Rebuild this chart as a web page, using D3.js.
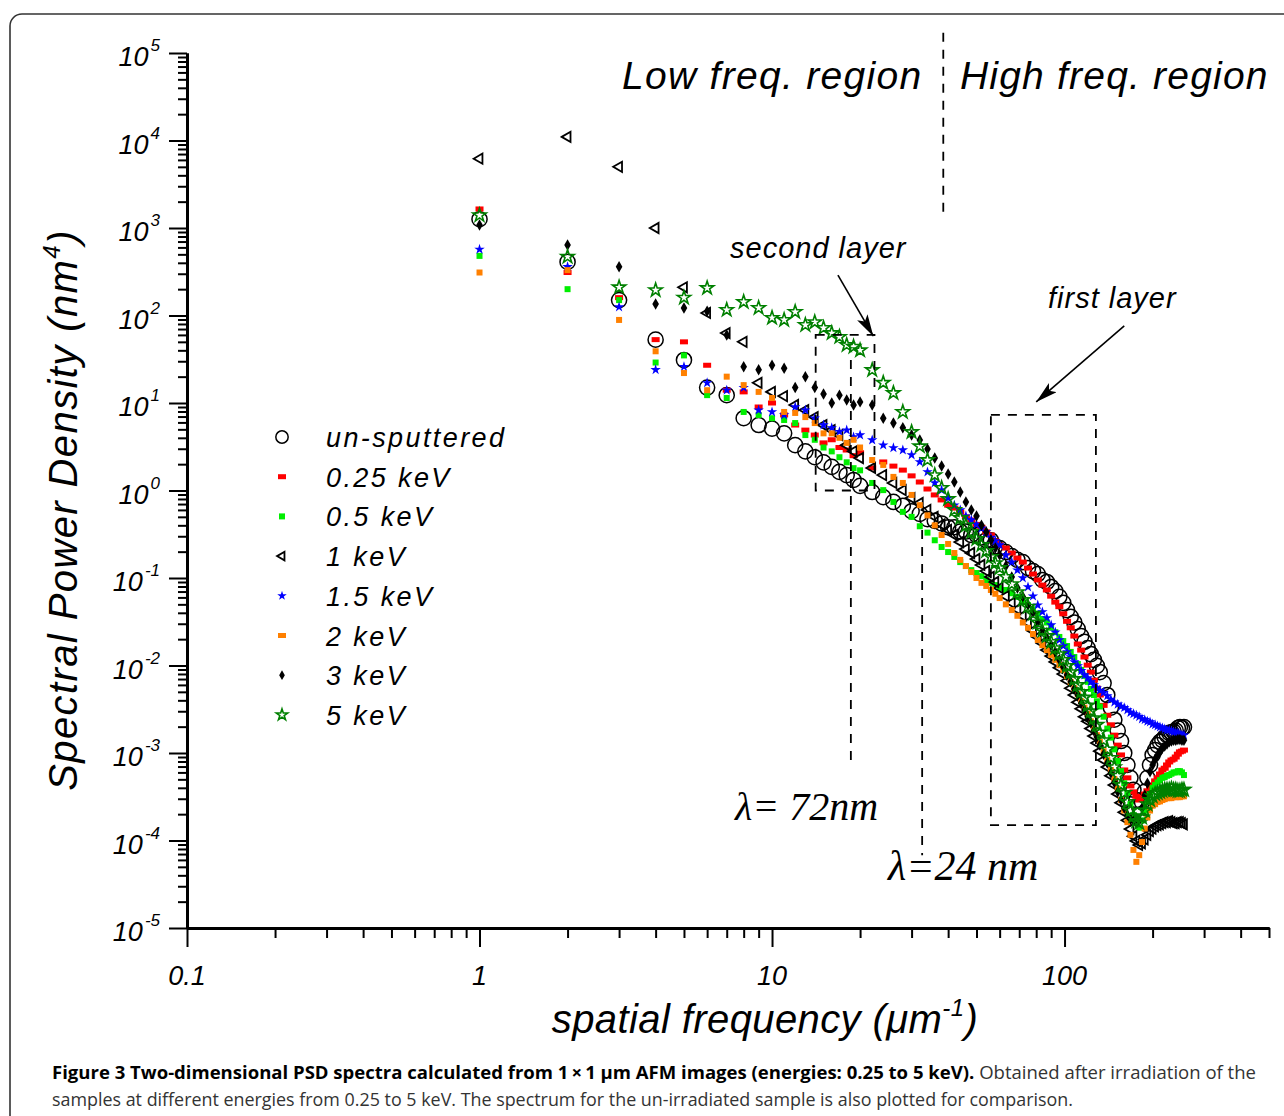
<!DOCTYPE html>
<html>
<head>
<meta charset="utf-8">
<script src="https://cdn.jsdelivr.net/npm/d3@7"></script>
<style>
body { margin: 0; background: #fff; }
svg text { font-family: "Liberation Sans", Arial, sans-serif; fill: #000; }
</style>
</head>
<body>
<svg id="chart" width="1284" height="1116"></svg>
<script>
// spatial frequency (um^-1) shared by every series
const freq = [1,2,3,4,5,6,7,8,9,10,11,12,13,14,15,16,17,18,19,20,
  22,24,26,28,30,32,34,36,38,40,42,44,46,48,50,52,54,56,58,60,
  63,66,69,72,75,78,81,84,87,90,93,96,99,102,105,108,111,114,117,120,123,126,129,
  132,136,140,144,148,152,156,160,164,168,172,176,180,184,188,192,196,200,204,208,212,216,220,224,228,232,236,240,244,248,252,256];

// PSD values (nm^4)
const unsputtered = [1.26e3,4.1e2,1.5e2,53,31,15,12.3,6.7,5.6,5.1,4.5,3.3,2.8,2.4,2.1,1.86,1.63,1.5,1.32,1.13,
  0.96,0.84,0.74,0.67,0.58,0.54,0.47,0.45,0.42,0.38,0.38,0.34,0.34,0.31,0.31,0.29,0.27,0.27,0.23,0.22,
  0.198,0.178,0.161,0.152,0.130,0.120,0.111,0.095,0.090,0.079,0.071,0.061,0.052,0.043,0.036,0.031,0.026,0.0217,0.0186,0.0158,0.0135,0.0116,0.0099,
  0.0084,0.0063,0.0046,0.0033,0.0024,0.0018,0.00137,1.0e-3,7.3e-4,5.2e-4,3.8e-4,2.9e-4,2.4e-4,2.75e-4,3.6e-4,5.2e-4,7.3e-4,9.5e-4,1.08e-3,1.23e-3,1.34e-3,1.4e-3,1.52e-3,1.6e-3,1.7e-3,1.72e-3,1.76e-3,1.8e-3,1.93e-3,1.98e-3,1.93e-3,1.98e-3];
const kev025 = [1.65e3,3.1e2,1.6e2,53,50,27,14,13.4,9.0,10,7.3,5.6,4.9,4.3,3.5,3.8,3.1,2.9,2.5,2.7,
  1.81,2.12,1.9,1.71,1.47,1.25,1.04,0.89,0.78,0.68,0.63,0.57,0.50,0.46,0.41,0.38,0.336,0.31,0.265,0.238,
  0.22,0.193,0.169,0.152,0.13,0.111,0.095,0.083,0.073,0.062,0.053,0.047,0.039,0.032,0.027,0.0217,0.0176,0.015,0.0125,0.0101,0.0084,0.0068,0.0055,
  0.0046,0.0035,0.0027,0.0021,0.0016,1.23e-3,9.5e-4,6.4e-4,5.2e-4,4.2e-4,3.6e-4,3.2e-4,2.9e-4,3.05e-4,3.4e-4,3.7e-4,4.0e-4,4.3e-4,4.8e-4,5.2e-4,5.75e-4,6.4e-4,6.7e-4,7.3e-4,7.9e-4,8.3e-4,8.5e-4,9.0e-4,9.7e-4,1.03e-3,1.05e-3,1.08e-3];
const kev05 = [4.8e2,2.0e2,1.5e2,29,35,12.3,11.4,7.9,7.3,6.7,6.4,5.9,4.3,3.8,3.1,2.8,2.4,2.1,1.8,1.7,
  1.22,1.01,0.74,0.57,0.50,0.39,0.33,0.27,0.226,0.198,0.174,0.152,0.137,0.123,0.114,0.105,0.095,0.088,0.083,0.077,
  0.073,0.067,0.061,0.055,0.049,0.044,0.039,0.034,0.031,0.027,0.024,0.0212,0.019,0.0167,0.0143,0.0125,0.0104,0.0089,0.0076,0.0065,0.0054,0.0046,0.0039,
  0.0034,0.0026,0.0019,0.0015,0.0011,8.1e-4,6.2e-4,4.5e-4,3.5e-4,2.6e-4,1.95e-4,1.6e-4,1.4e-4,1.7e-4,2.2e-4,2.8e-4,3.4e-4,4.0e-4,4.3e-4,4.6e-4,4.9e-4,5.2e-4,5.3e-4,5.5e-4,5.6e-4,5.8e-4,6.0e-4,6.0e-4,6.2e-4,6.2e-4,6.0e-4,5.6e-4];
const kev1 = [6.2e3,1.1e4,5.0e3,1.0e3,2.1e2,1.07e2,63,50,17,13.4,12,9.5,8.3,6.9,5.6,4.9,4.3,3.3,2.8,2.35,
  1.81,1.50,1.22,1.01,0.82,0.72,0.60,0.50,0.41,0.354,0.31,0.258,0.214,0.193,0.165,0.141,0.12,0.103,0.090,0.077,
  0.062,0.052,0.044,0.037,0.031,0.025,0.0212,0.018,0.015,0.0128,0.011,0.0094,0.008,0.0067,0.0055,0.0046,0.0038,0.0032,0.0026,0.0023,0.0019,0.00156,0.0013,
  1.05e-3,8.3e-4,6.9e-4,5.5e-4,4.3e-4,3.4e-4,2.7e-4,2.1e-4,1.7e-4,1.35e-4,1.12e-4,9.9e-5,8.9e-5,9.3e-5,1.03e-4,1.16e-4,1.28e-4,1.37e-4,1.45e-4,1.5e-4,1.53e-4,1.58e-4,1.62e-4,1.62e-4,1.66e-4,1.62e-4,1.58e-4,1.58e-4,1.62e-4,1.62e-4,1.58e-4,1.53e-4];
const kev15 = [5.7e2,3.6e2,1.25e2,24,26,17,14,15,8.3,7.9,7.3,9.0,8.3,6.7,5.6,5.2,4.7,4.9,4.1,4.3,
  3.77,3.3,3.07,2.9,2.55,2.12,1.63,1.22,1.01,0.82,0.68,0.60,0.51,0.46,0.41,0.37,0.336,0.29,0.265,0.238,
  0.183,0.152,0.123,0.10,0.079,0.062,0.049,0.041,0.035,0.029,0.024,0.0196,0.0167,0.0143,0.0125,0.011,0.0099,0.0087,0.0078,0.0072,0.0065,0.006,0.0055,
  0.0052,0.0049,0.0045,0.0041,0.0038,0.0036,0.0034,0.0033,0.0031,0.0029,0.0028,0.0027,0.0026,0.00245,0.0024,0.0023,0.00226,0.00214,0.0021,0.00203,0.00198,0.00193,0.00188,0.00183,0.00183,0.00178,0.00174,0.0017,0.0017,0.00165,0.0016,0.0016];
const kev2 = [3.1e2,3.3e2,89,39,22,14,20,16,13.4,11.4,7.9,7.7,6.9,5.9,4.5,4.5,4.0,3.5,3.8,3.1,
  2.23,1.96,1.43,1.22,0.89,0.68,0.52,0.40,0.31,0.245,0.193,0.161,0.137,0.117,0.10,0.088,0.081,0.073,0.066,0.059,
  0.050,0.043,0.037,0.031,0.027,0.0229,0.0196,0.0171,0.015,0.0132,0.0116,0.0101,0.0089,0.0076,0.0065,0.0055,0.0047,0.0039,0.0033,0.0028,0.0023,0.0019,0.0016,
  1.34e-3,1.05e-3,8.3e-4,6.4e-4,5.05e-4,3.9e-4,2.9e-4,2.2e-4,1.62e-4,1.16e-4,7.8e-5,5.7e-5,6.8e-5,9.6e-5,1.37e-4,1.83e-4,2.2e-4,2.5e-4,2.6e-4,2.75e-4,2.8e-4,2.9e-4,2.97e-4,3.05e-4,3.05e-4,3.05e-4,3.13e-4,3.13e-4,3.13e-4,3.13e-4,3.2e-4,3.2e-4];
const kev3 = [1.08e3,6.4e2,3.6e2,1.35e2,1.22e2,1.12e2,60,26,24,27,25,15,20,15,12.7,10,12.3,10.8,9.5,10.3,
  9.5,6.7,5.9,5.2,4.3,3.77,2.98,2.35,1.9,1.54,1.25,0.96,0.74,0.60,0.51,0.40,0.336,0.27,0.22,0.183,
  0.137,0.103,0.077,0.061,0.049,0.040,0.031,0.025,0.0206,0.0171,0.0143,0.0116,0.0096,0.0078,0.0065,0.0054,0.0046,0.0037,0.0031,0.0026,0.0022,0.0018,0.00152,
  1.23e-3,9.7e-4,7.7e-4,5.9e-4,4.6e-4,3.6e-4,2.9e-4,2.35e-4,1.95e-4,1.76e-4,1.66e-4,1.62e-4,1.7e-4,2.35e-4,3.3e-4,4.5e-4,6.1e-4,7.3e-4,8.5e-4,9.5e-4,1.05e-3,1.14e-3,1.2e-3,1.27e-3,1.34e-3,1.37e-3,1.4e-3,1.4e-3,1.43e-3,1.43e-3,1.4e-3,1.4e-3];
const kev5 = [1.4e3,4.7e2,2.1e2,1.95e2,1.6e2,2.06e2,1.16e2,1.43e2,1.22e2,94,89,1.1e2,78,84,72,63,57,46,44,40,
  23.8,17,13,7.9,4.66,3.2,2.23,1.50,1.07,0.80,0.60,0.485,0.40,0.336,0.279,0.238,0.204,0.174,0.148,0.13,
  0.103,0.085,0.069,0.056,0.047,0.039,0.031,0.025,0.0217,0.0186,0.0158,0.0135,0.0116,0.0099,0.0084,0.007,0.006,0.005,0.0043,0.0035,0.003,0.0025,0.0021,
  1.72e-3,1.4e-3,1.1e-3,8.8e-4,6.9e-4,5.5e-4,4.3e-4,3.5e-4,2.75e-4,2.2e-4,1.9e-4,1.66e-4,1.58e-4,1.83e-4,2.2e-4,2.6e-4,2.9e-4,3.2e-4,3.4e-4,3.5e-4,3.6e-4,3.7e-4,3.8e-4,3.8e-4,3.8e-4,3.9e-4,3.8e-4,3.8e-4,3.7e-4,3.7e-4,3.8e-4,3.8e-4];

const seriesNames = ['un-sputtered', '0.25 keV', '0.5 keV', '1 keV', '1.5 keV', '2 keV', '3 keV', '5 keV'];
const seriesValues = [unsputtered, kev025, kev05, kev1, kev15, kev2, kev3, kev5];

const xTickLabels = ['0.1', '1', '10', '100'];

// marker styles, same order as the names
const styles = [
  {shape: 'path', symbol: d3.symbolCircle, size: 180, color: '#000', fill: false, sw: 1.5, legendSize: 120},
  {shape: 'rect', w: 8, h: 5, color: '#ff0000'},
  {shape: 'rect', w: 6, h: 6, color: '#00ee00'},
  {shape: 'path', symbol: d3.symbolTriangle, size: 45, color: '#000', fill: false, sw: 1.8, rotate: -90, legendSize: 32},
  {shape: 'path', symbol: d3.symbolStar, size: 34, color: '#0000ff', fill: true, legendSize: 28},
  {shape: 'rect', w: 6, h: 6, color: '#ff8000', lw: 8, lh: 5},
  {shape: 'path', symbol: d3.symbolDiamond, size: 38, color: '#000', fill: true, legendSize: 28},
  {shape: 'path', symbol: d3.symbolStar, size: 55, color: '#008000', fill: false, sw: 1.6, legendSize: 40}
];

const svg = d3.select('#chart');
const plot = {l: 187, r: 1269, t: 53, b: 928};

const x = d3.scaleLog().domain([0.1, 500]).range([plot.l, plot.r]);
const y = d3.scaleLog().domain([1e-5, 1e5]).range([plot.b, plot.t]);

// outer frame
svg.append('rect')
  .attr('x', 10).attr('y', 14)
  .attr('width', 1300).attr('height', 1130)
  .attr('rx', 12)
  .attr('fill', 'none').attr('stroke', '#333').attr('stroke-width', 1.6);

// arrow head
svg.append('defs').append('marker')
  .attr('id', 'arrow')
  .attr('markerUnits', 'userSpaceOnUse')
  .attr('markerWidth', 24).attr('markerHeight', 14)
  .attr('refX', 22).attr('refY', 6)
  .attr('orient', 'auto')
  .append('path')
  .attr('d', 'M0,0 L22,6 L0,12 L5,6 Z')
  .attr('fill', '#000');

// ticks
const yMajor = d3.range(-5, 6).map(e => Math.pow(10, e));
const yMinor = [];
d3.range(-5, 5).forEach(e => d3.range(2, 10).forEach(m => yMinor.push(m * Math.pow(10, e))));
const xMajor = [0.1, 1, 10, 100];
const xMinor = [];
d3.range(-1, 3).forEach(e => d3.range(2, 10).forEach(m => {
  let v = m * Math.pow(10, e);
  if (v <= 500) xMinor.push(v);
}));

function styleAxis(g){
  g.select('.domain').attr('stroke', '#000').attr('stroke-width', 3);
  g.selectAll('.tick line').attr('stroke', '#000').attr('stroke-width', 2);
}

svg.append('g').attr('transform', `translate(${plot.l},0)`)
  .call(d3.axisLeft(y).tickValues(yMinor).tickSize(9).tickSizeOuter(0).tickFormat(''))
  .call(styleAxis);
svg.append('g').attr('transform', `translate(${plot.l},0)`)
  .call(d3.axisLeft(y).tickValues(yMajor).tickSize(18).tickSizeOuter(0).tickFormat(''))
  .call(styleAxis);
svg.append('g').attr('transform', `translate(0,${plot.b})`)
  .call(d3.axisBottom(x).tickValues(xMinor).tickSize(10).tickSizeOuter(0).tickFormat(''))
  .call(styleAxis);
svg.append('g').attr('transform', `translate(0,${plot.b})`)
  .call(d3.axisBottom(x).tickValues(xMajor).tickSize(19).tickSizeOuter(0).tickFormat(''))
  .call(styleAxis);

// y tick labels 10^n
let yLab = svg.append('g').selectAll('text').data(yMajor).join('text')
  .attr('x', 160).attr('y', d => y(d) + 13)
  .attr('text-anchor', 'end')
  .style('font-style', 'italic').style('font-size', '27px');
yLab.append('tspan').text('10');
yLab.append('tspan').attr('dx', 2).attr('dy', -15).style('font-size', '17px')
  .text(d => Math.round(Math.log10(d)));

// x tick labels
svg.append('g').selectAll('text').data(xMajor).join('text')
  .attr('x', d => x(d)).attr('y', 985)
  .attr('text-anchor', 'middle')
  .style('font-style', 'italic').style('font-size', '27px')
  .text((d, i) => xTickLabels[i]);

// axis titles
let yTitle = svg.append('text')
  .attr('transform', 'translate(77,510) rotate(-90)')
  .attr('text-anchor', 'middle')
  .style('font-style', 'italic').style('font-size', '40px')
  .style('letter-spacing', '1.4px');
yTitle.append('tspan').text('Spectral Power Density (nm');
yTitle.append('tspan').attr('dy', -17).style('font-size', '24px').text('4');
yTitle.append('tspan').attr('dy', 17).text(')');

let xTitle = svg.append('text')
  .attr('x', 765).attr('y', 1033)
  .attr('text-anchor', 'middle')
  .style('font-style', 'italic').style('font-size', '40px')
  .style('letter-spacing', '0.4px');
xTitle.append('tspan').text('spatial frequency (\u03bcm');
xTitle.append('tspan').attr('dy', -17).style('font-size', '24px').text('-1');
xTitle.append('tspan').attr('dy', 17).text(')');

// draws one marker into a group positioned at the point
function drawShape(sel, s, legend){
  if (s.shape === 'rect'){
    let w = legend && s.lw ? s.lw : s.w;
    let h = legend && s.lh ? s.lh : s.h;
    sel.append('rect')
      .attr('x', -w / 2).attr('y', -h / 2)
      .attr('width', w).attr('height', h)
      .attr('fill', s.color);
  } else {
    sel.append('path')
      .attr('d', d3.symbol(s.symbol, legend ? s.legendSize : s.size))
      .attr('transform', `rotate(${s.rotate || 0})`)
      .attr('fill', s.fill ? s.color : 'none')
      .attr('stroke', s.fill ? 'none' : s.color)
      .attr('stroke-width', s.sw || 0);
  }
}

// data markers
seriesValues.forEach((vals, k) => {
  let pts = freq.map((f, i) => ({f: f, v: vals[i]}));
  svg.append('g').attr('class', 'series')
    .selectAll('g').data(pts).join('g')
    .attr('transform', d => `translate(${x(d.f)},${y(d.v)})`)
    .each(function(){ drawShape(d3.select(this), styles[k], false); });
});

// legend
let leg = svg.append('g').selectAll('g').data(seriesNames).join('g')
  .attr('transform', (d, i) => `translate(282,${437 + i * 39.7})`);
leg.each(function(d, i){ drawShape(d3.select(this), styles[i], true); });
leg.append('text')
  .attr('x', 44).attr('y', 10)
  .style('font-style', 'italic').style('font-size', '27px')
  .style('letter-spacing', '2.4px')
  .text(d => d);

// guide lines and boxes (data coordinates)
function dashed(x1, y1, x2, y2){
  svg.append('line')
    .attr('x1', x(x1)).attr('y1', y(y1)).attr('x2', x(x2)).attr('y2', y(y2))
    .attr('stroke', '#000').attr('stroke-width', 1.8)
    .attr('stroke-dasharray', '9,8');
}
dashed(38.5, 1.7e5, 38.5, 1.5e3);
dashed(18.6, 31, 18.6, 7.9e-4);
dashed(32.6, 0.354, 32.6, 6.8e-5);

function dashedBox(f0, f1, v0, v1){
  svg.append('rect')
    .attr('x', x(f0)).attr('y', y(v1))
    .attr('width', x(f1) - x(f0)).attr('height', y(v0) - y(v1))
    .attr('fill', 'none').attr('stroke', '#000').attr('stroke-width', 1.8)
    .attr('stroke-dasharray', '9,8');
}
dashedBox(14.1, 22.4, 1.0, 60);
dashedBox(56, 128, 1.5e-4, 7.3);

function arrow(f0, v0, f1, v1){
  svg.append('line')
    .attr('x1', x(f0)).attr('y1', y(v0)).attr('x2', x(f1)).attr('y2', y(v1))
    .attr('stroke', '#000').attr('stroke-width', 1.6)
    .attr('marker-end', 'url(#arrow)');
}
arrow(16.8, 290, 22.2, 58);
arrow(160, 76, 80, 10.3);

// annotation texts
function label(txt, px, py, size, family){
  return svg.append('text')
    .attr('x', px).attr('y', py)
    .style('font-style', 'italic').style('font-size', size + 'px')
    .style('font-family', family || null)
    .text(txt);
}
label('Low freq. region', 622, 89, 39).style('letter-spacing', '1.3px');
label('High freq. region', 960, 89, 39).style('letter-spacing', '1.2px');
label('second layer', 730, 258, 29).style('letter-spacing', '1px');
label('first layer', 1048, 308, 29).style('letter-spacing', '1px');
label('\u03bb= 72nm', 735, 820, 40, '"Liberation Serif", "Times New Roman", serif');
label('\u03bb=24 nm', 888, 880, 42, '"Liberation Serif", "Times New Roman", serif');

// caption
let cap1 = svg.append('text')
  .attr('x', 52).attr('y', 1079)
  .attr('textLength', 1204).attr('lengthAdjust', 'spacingAndGlyphs')
  .style('font-family', '"Open Sans", sans-serif').style('font-size', '18px');
cap1.append('tspan').style('font-weight', 'bold')
  .text('Figure 3 Two-dimensional PSD spectra calculated from 1\u2009\u00d7\u20091 \u03bcm AFM images (energies: 0.25 to 5 keV).');
cap1.append('tspan').style('fill', '#333').text(' Obtained after irradiation of the');
svg.append('text')
  .attr('x', 52).attr('y', 1106)
  .attr('textLength', 1021).attr('lengthAdjust', 'spacingAndGlyphs')
  .style('font-family', '"Open Sans", sans-serif').style('font-size', '18px')
  .style('fill', '#333')
  .text('samples at different energies from 0.25 to 5 keV. The spectrum for the un-irradiated sample is also plotted for comparison.');
</script>
</body>
</html>
